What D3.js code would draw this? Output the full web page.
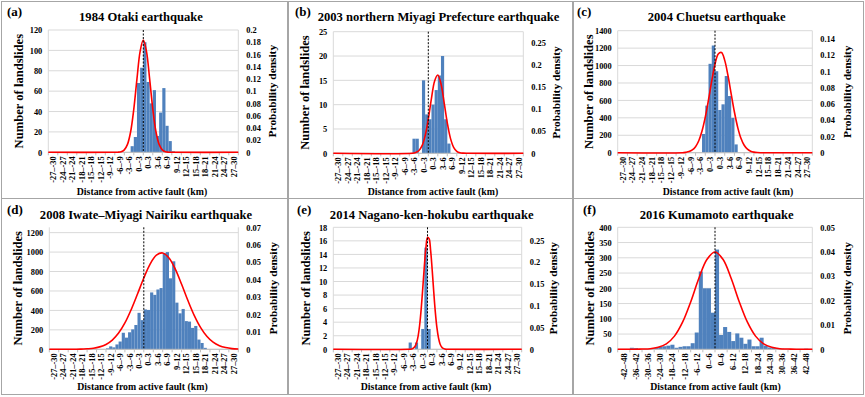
<!DOCTYPE html>
<html>
<head>
<meta charset="utf-8">
<script src="https://cdn.jsdelivr.net/npm/d3@7"></script>
<style>
  body { margin: 0; background: #fff; }
  text { font-family: "Liberation Serif", "Times New Roman", serif; font-weight: bold; fill: #000; }
</style>
</head>
<body>
<svg id="fig" width="865" height="397"></svg>
<script>
// panel titles and tags
var titles = ["1984 Otaki earthquake", "2003 northern Miyagi Prefecture earthquake", "2004 Chuetsu earthquake",
  "2008 Iwate–Miyagi Nairiku earthquake", "2014 Nagano-ken-hokubu earthquake", "2016 Kumamoto earthquake"];
var tags = ["(a)", "(b)", "(c)", "(d)", "(e)", "(f)"];

// distance categories (one label per 3 bins)
var distLabels30 = ["-27–-30", "-24–-27", "-21–-24", "-18–-21", "-15–-18", "-12–-15", "-9–-12", "-6–-9", "-3–-6", "0–-3",
  "0–3", "3–6", "6–9", "9–12", "12–15", "15–18", "18–21", "21–24", "24–27", "27–30"];
var distLabels48 = ["-42–-48", "-36–-42", "-30–-36", "-24–-30", "-18–-24", "-12–-18", "-6–-12", "0–-6",
  "0–6", "6–12", "12–18", "18–24", "24–30", "30–36", "36–42", "42–48"];

// landslide counts per bin, starting at firstBin (km), bin width binKm
var binKm = [1, 1, 1, 1, 1, 2];
var firstBin = [-4, -5, -4, -12, -6, -44];
var countsA = [6, 15, 68, 83, 108, 69, 48, 61, 16, 39, 63, 26, 11, 1];
var countsB = [3, 3, 0, 15, 8, 7, 10, 13, 16, 20, 7, 2];
var countsC = [215, 540, 1020, 1230, 935, 490, 555, 880, 650, 400, 95];
var countsD = [10, 30, 20, 50, 80, 170, 120, 175, 205, 250, 375, 300,
  410, 405, 585, 560, 615, 630, 990, 1000, 730, 905, 480, 370, 415, 290, 285, 220, 240, 100, 65, 15];
var countsE = [1, 0, 1, 0, 3, 15, 3];
var countsF = [1, 5, 4, 1, 1, 1, 2, 5, 8, 10, 12, 15, 5, 8, 10, 10, 20, 55, 255, 200, 200, 120,
  327, 47, 73, 57, 27, 52, 38, 18, 32, 10, 10, 38, 12, 6, 5, 3, 2, 1, 1, 1, 1, 1, 2];

// probability density curves [km, density]
var densA = [[-30, 0], [-9, 0], [-8, 0.0002], [-7, 0.0010], [-6, 0.0040], [-5, 0.0129], [-4, 0.0336], [-3, 0.0707],
  [-2, 0.1201], [-1, 0.1652], [0, 0.1837], [1, 0.1652], [2, 0.1201], [3, 0.0707], [4, 0.0336], [5, 0.0129],
  [6, 0.0040], [7, 0.0010], [8, 0.0002], [9, 0], [30, 0]];
var densB = [[-30, 0], [-5, 0], [-4, 0.0016], [-3, 0.0057], [-2, 0.0166], [-1, 0.0395], [0, 0.0773], [1, 0.1241],
  [2, 0.1637], [3, 0.1771], [4, 0.1573], [5, 0.1147], [6, 0.0686], [7, 0.0337], [8, 0.0136], [9, 0.0045],
  [10, 0.0012], [11, 0.0003], [12, 0], [30, 0]];
var densC = [[-30, 0], [-10, 0], [-9, 0.0005], [-8, 0.0014], [-7, 0.0034], [-6, 0.0074], [-5, 0.0147], [-4, 0.0266],
  [-3, 0.0437], [-2, 0.0651], [-1, 0.0883], [0, 0.1087], [1, 0.1214], [2, 0.1232], [3, 0.1135], [4, 0.0949],
  [5, 0.0721], [6, 0.0497], [7, 0.0312], [8, 0.0177], [9, 0.0091], [10, 0.0043], [11, 0.0018], [12, 0.0007],
  [13, 0.0002], [14, 0], [30, 0]];
var densD = [[-30, 0], [-24, 0], [-22, 0.00004], [-20, 0.0001], [-18, 0.0003], [-16, 0.0006], [-14, 0.0014],
  [-12, 0.0028], [-10, 0.0053], [-8, 0.0093], [-6, 0.0151], [-4, 0.0228], [-2, 0.0317], [0, 0.0409],
  [2, 0.0489], [4, 0.0540], [6, 0.0553], [8, 0.0524], [10, 0.0460], [12, 0.0373], [14, 0.0280], [16, 0.0195],
  [18, 0.0126], [20, 0.0075], [22, 0.0041], [24, 0.0021], [26, 0.0010], [28, 0.0004], [30, 0.0002]];
var densE = [[-30, 0], [-6, 0], [-5, 0.0009], [-4.5, 0.0025], [-4, 0.0063], [-3.5, 0.0144], [-3, 0.0299],
  [-2.5, 0.0557], [-2, 0.0933], [-1.5, 0.1408], [-1, 0.1912], [-0.5, 0.2336], [0, 0.2568], [0.5, 0.2541],
  [1, 0.2263], [1.5, 0.1814], [2, 0.1308], [2.5, 0.0849], [3, 0.0496], [3.5, 0.0261], [4, 0.0123],
  [4.5, 0.0053], [5, 0.0020], [5.5, 0.0007], [6, 0.0002], [7, 0], [30, 0]];
var densF = [[-48, 0], [-44, 0], [-40, 0], [-36, 0.0001], [-32, 0.0002], [-28, 0.0008], [-24, 0.0022],
  [-20, 0.0054], [-16, 0.0111], [-12, 0.0194], [-8, 0.0290], [-4, 0.0368], [0, 0.0399], [4, 0.0368],
  [8, 0.0290], [12, 0.0194], [16, 0.0111], [20, 0.0054], [24, 0.0022], [28, 0.0008], [32, 0.0002],
  [36, 0.0001], [40, 0], [44, 0], [48, 0]];

// axis ticks
var countTicks = [[0, 20, 40, 60, 80, 100, 120], [0, 5, 10, 15, 20, 25], [0, 200, 400, 600, 800, 1000, 1200, 1400],
  [0, 200, 400, 600, 800, 1000, 1200], [0, 2, 4, 6, 8, 10, 12, 14, 16, 18], [0, 50, 100, 150, 200, 250, 300, 350, 400]];
var densTicks = [[0, 0.02, 0.04, 0.06, 0.08, 0.1, 0.12, 0.14, 0.16, 0.18, 0.2], [0, 0.05, 0.1, 0.15, 0.2, 0.25],
  [0, 0.02, 0.04, 0.06, 0.08, 0.1, 0.12, 0.14], [0, 0.01, 0.02, 0.03, 0.04, 0.05, 0.06, 0.07],
  [0, 0.05, 0.1, 0.15, 0.2, 0.25], [0, 0.01, 0.02, 0.03, 0.04, 0.05]];

// geometry of each panel
var layout = [
  { box: [1, 1, 286, 197], x0: 48.3, x1: 238.3, y0: 30, y1: 152.3, leftMax: 120, rightMax: 0.2,
    tagX: 7, tagY: 15.5, titleX: 141, titleY: 20.7, yTitleX: 19, pTitleX: 271.7, xTitleX: 142, xTitleY: 194.5 },
  { box: [288, 1, 284, 197], x0: 333.3, x1: 523.3, y0: 31.7, y1: 153.3, leftMax: 25, rightMax: 0.275,
    tagX: 295, tagY: 15.5, titleX: 438.5, titleY: 20.7, yTitleX: 305, pTitleX: 555.7, xTitleX: 433, xTitleY: 194.5 },
  { box: [573, 1, 290, 197], x0: 617.7, x1: 812.3, y0: 30.7, y1: 152.7, leftMax: 1400, rightMax: 0.15,
    tagX: 577, tagY: 15.5, titleX: 716.7, titleY: 20.7, yTitleX: 589, pTitleX: 846.7, xTitleX: 728, xTitleY: 194.5 },
  { box: [1, 198, 286, 196], x0: 49.3, x1: 238.3, y0: 227.3, y1: 349.3, leftMax: 1255, rightMax: 0.07,
    tagX: 7, tagY: 213.5, titleX: 146, titleY: 218.5, yTitleX: 18, pTitleX: 273.3, xTitleX: 142.5, xTitleY: 389.5 },
  { box: [288, 198, 284, 196], x0: 333.3, x1: 521.7, y0: 227.3, y1: 349.3, leftMax: 18, rightMax: 0.28,
    tagX: 297, tagY: 213.5, titleX: 431.7, titleY: 218.5, yTitleX: 305.8, pTitleX: 553.3, xTitleX: 426, xTitleY: 389.5 },
  { box: [573, 198, 290, 196], x0: 617.7, x1: 812.3, y0: 227.3, y1: 349.3, leftMax: 400, rightMax: 0.05,
    tagX: 583, tagY: 213.5, titleX: 716.7, titleY: 218.5, yTitleX: 590, pTitleX: 846.7, xTitleX: 715.5, xTitleY: 389.5 }
];

var allCounts = [countsA, countsB, countsC, countsD, countsE, countsF];
var allDens = [densA, densB, densC, densD, densE, densF];

var svg = d3.select("#fig");
var fmt = d3.format("~f");
var intFmt = d3.format("d");

function drawPanel(i) {
  var p = layout[i];
  var labels = i == 5 ? distLabels48 : distLabels30;
  var kmMax = i == 5 ? 48 : 30;
  var groupKm = 3 * binKm[i];
  var g = svg.append("g");

  var x = d3.scaleLinear().domain([-kmMax, kmMax]).range([p.x0, p.x1]);
  var band = d3.scaleBand().domain(labels).range([p.x0, p.x1]);
  var yL = d3.scaleLinear().domain([0, p.leftMax]).range([p.y1, p.y0]);
  var yR = d3.scaleLinear().domain([0, p.rightMax]).range([p.y1, p.y0]);

  // panel frame
  g.append("rect")
    .attr("x", p.box[0] + 0.5).attr("y", p.box[1] + 0.5)
    .attr("width", p.box[2]).attr("height", p.box[3])
    .attr("fill", "none").attr("stroke", "#a6a6a6").attr("stroke-width", 1);

  // gridlines
  g.selectAll(".grid").data(countTicks[i]).enter().append("line")
    .attr("x1", p.x0).attr("x2", p.x1)
    .attr("y1", function(d) { return yL(d); }).attr("y2", function(d) { return yL(d); })
    .attr("stroke", "#d9d9d9").attr("stroke-width", 1);
  g.append("line").attr("x1", p.x0).attr("x2", p.x0).attr("y1", p.y0).attr("y2", p.y1)
    .attr("stroke", "#d9d9d9");
  g.append("line").attr("x1", p.x1).attr("x2", p.x1).attr("y1", p.y0).attr("y2", p.y1)
    .attr("stroke", "#d9d9d9");

  // histogram bars
  var bins = allCounts[i].map(function(c, k) { return { lo: firstBin[i] + k * binKm[i], n: c }; });
  g.selectAll(".bar").data(bins).enter().append("rect")
    .attr("x", function(d) { return x(d.lo); })
    .attr("width", function(d) { return x(d.lo + binKm[i]) - x(d.lo); })
    .attr("y", function(d) { return yL(d.n); })
    .attr("height", function(d) { return yL(0) - yL(d.n); })
    .attr("fill", "#4f81bd");

  // category axis
  g.append("line").attr("x1", p.x0).attr("x2", p.x1).attr("y1", p.y1).attr("y2", p.y1)
    .attr("stroke", "#bfbfbf");
  var bounds = d3.range(labels.length + 1).map(function(k) { return -kmMax + k * groupKm; });
  g.selectAll(".xt").data(bounds).enter().append("line")
    .attr("x1", function(d) { return x(d); }).attr("x2", function(d) { return x(d); })
    .attr("y1", p.y1).attr("y2", p.y1 + 3)
    .attr("stroke", "#bfbfbf");
  var xAxis = g.append("g").attr("transform", "translate(0," + (p.y1 + 4) + ")")
    .call(d3.axisBottom(band).tickSize(0).tickPadding(0));
  xAxis.select(".domain").remove();
  xAxis.attr("font-size", 8.4).attr("font-family", null);
  xAxis.selectAll("text")
    .attr("y", 0).attr("dy", "0.35em")
    .attr("text-anchor", "end")
    .attr("transform", "rotate(-90)");

  // density curve
  var line = d3.line()
    .x(function(d) { return x(d[0]); })
    .y(function(d) { return yR(d[1]); })
    .curve(d3.curveCatmullRom);
  g.append("path").datum(allDens[i])
    .attr("d", line).attr("fill", "none")
    .attr("stroke", "#ff0000").attr("stroke-width", 1.6);

  // fault position
  g.append("line").attr("x1", x(0)).attr("x2", x(0)).attr("y1", p.y0).attr("y2", p.y1)
    .attr("stroke", "#000").attr("stroke-width", 1).attr("stroke-dasharray", "2,1.5");

  // left and right value axes
  var left = g.append("g").attr("transform", "translate(" + p.x0 + ",0)")
    .call(d3.axisLeft(yL).tickValues(countTicks[i]).tickSize(0).tickPadding(6).tickFormat(intFmt));
  left.select(".domain").remove();
  left.attr("font-size", 8.4).attr("font-family", null);
  var right = g.append("g").attr("transform", "translate(" + p.x1 + ",0)")
    .call(d3.axisRight(yR).tickValues(densTicks[i]).tickSize(0).tickPadding(8).tickFormat(fmt));
  right.select(".domain").remove();
  right.attr("font-size", 8.4).attr("font-family", null);

  // titles
  g.append("text").attr("x", p.tagX).attr("y", p.tagY).attr("font-size", 13).text(tags[i]);
  g.append("text").attr("x", p.titleX).attr("y", p.titleY).attr("font-size", 12.6)
    .attr("text-anchor", "middle").text(titles[i]);
  var midY = (p.y0 + p.y1) / 2;
  g.append("text").attr("transform", "translate(" + p.yTitleX + "," + midY + ") rotate(-90)")
    .attr("dy", "0.35em").attr("text-anchor", "middle").attr("font-size", 12.6).text("Number of landslides");
  g.append("text").attr("transform", "translate(" + p.pTitleX + "," + midY + ") rotate(-90)")
    .attr("dy", "0.35em").attr("text-anchor", "middle").attr("font-size", 11.4).text("Probability density");
  g.append("text").attr("x", p.xTitleX).attr("y", p.xTitleY).attr("font-size", 9.8)
    .attr("text-anchor", "middle").text("Distance from active fault (km)");
}

for (var i = 0; i < 6; i++) drawPanel(i);
</script>
</body>
</html>
